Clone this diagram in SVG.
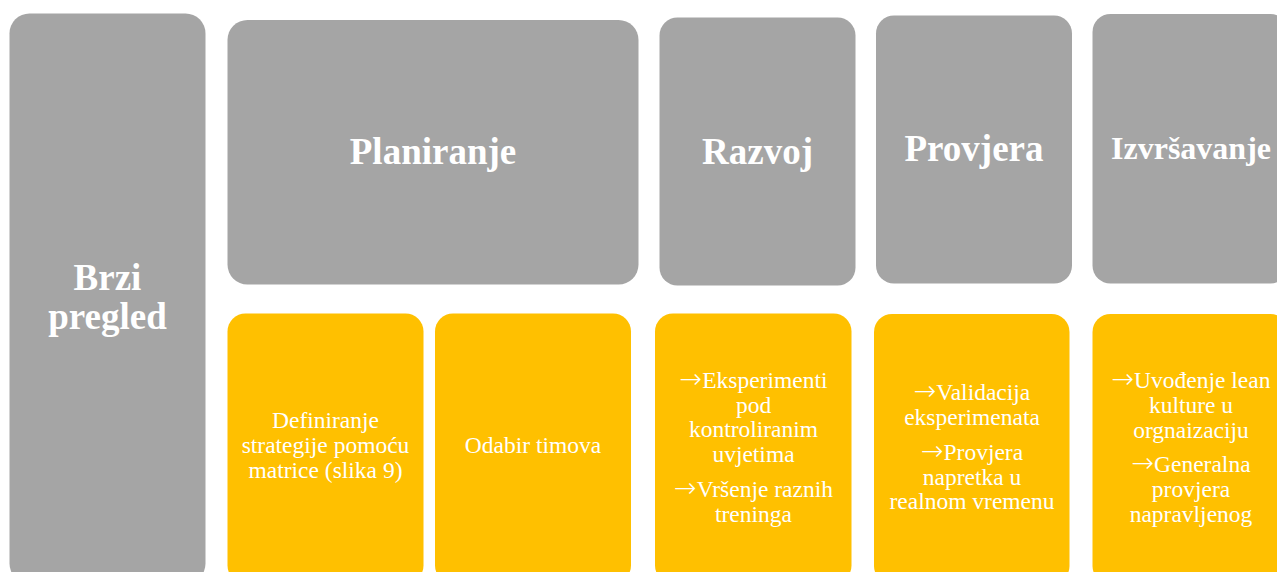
<svg xmlns="http://www.w3.org/2000/svg" width="1277" height="572" viewBox="0 0 1277 572">
<style>
.g{fill:#A5A5A5}
.y{fill:#FFC000}
.h{font-family:"Liberation Serif","Times New Roman",serif;font-weight:bold;fill:#fff;text-anchor:middle}
.t{font-family:"Liberation Serif","Times New Roman",serif;font-size:23.5px;fill:#fff;text-anchor:middle}
.a{font-family:"DejaVu Sans",sans-serif;font-weight:200;font-size:27px}
</style>
<rect width="1277" height="572" fill="#fff"/>
<g id="brzi-pregled">
<rect class="g" x="9.5" y="13.5" width="196" height="570" rx="20"/>
<text class="h" font-size="37" x="107.5" y="290">Brzi</text>
<text class="h" font-size="37" x="107.5" y="329">pregled</text>
</g>
<g id="planiranje">
<rect class="g" x="227.5" y="20" width="411" height="264.5" rx="20"/>
<text class="h" font-size="37" x="433" y="164">Planiranje</text>
</g>
<g id="razvoj">
<rect class="g" x="659.5" y="17.5" width="196" height="268" rx="18"/>
<text class="h" font-size="37" x="757.5" y="164">Razvoj</text>
</g>
<g id="provjera">
<rect class="g" x="876" y="15.5" width="196" height="268" rx="18"/>
<text class="h" font-size="37" x="974" y="161">Provjera</text>
</g>
<g id="izvrsavanje">
<rect class="g" x="1092.5" y="14" width="196" height="269.5" rx="18"/>
<text class="h" font-size="32" x="1191" y="159">Izvršavanje</text>
</g>
<g id="definiranje">
<rect class="y" x="227.5" y="313.5" width="196" height="270" rx="18"/>
<text class="t" x="325.5" y="428">Definiranje</text>
<text class="t" x="325.5" y="453">strategije pomoću</text>
<text class="t" x="325.5" y="478">matrice (slika 9)</text>
</g>
<g id="odabir">
<rect class="y" x="435" y="313.5" width="196" height="270" rx="18"/>
<text class="t" x="533" y="453">Odabir timova</text>
</g>
<g id="razvoj-detalji">
<rect class="y" x="655" y="313.5" width="196.5" height="270" rx="18"/>
<text class="t" x="753.5" y="388"><tspan class="a">→</tspan>Eksperimenti</text>
<text class="t" x="753.5" y="412.5">pod</text>
<text class="t" x="753.5" y="437">kontroliranim</text>
<text class="t" x="753.5" y="462">uvjetima</text>
<text class="t" x="753.5" y="497"><tspan class="a">→</tspan>Vršenje raznih</text>
<text class="t" x="753.5" y="521.5">treninga</text>
</g>
<g id="provjera-detalji">
<rect class="y" x="874" y="314" width="195.5" height="270" rx="18"/>
<text class="t" x="972" y="400"><tspan class="a">→</tspan>Validacija</text>
<text class="t" x="972" y="425">eksperimenata</text>
<text class="t" x="972" y="460"><tspan class="a">→</tspan>Provjera</text>
<text class="t" x="972" y="484.5">napretka u</text>
<text class="t" x="972" y="509">realnom vremenu</text>
</g>
<g id="izvrsavanje-detalji">
<rect class="y" x="1092.5" y="314" width="196" height="270" rx="18"/>
<text class="t" x="1191" y="388"><tspan class="a">→</tspan>Uvođenje lean</text>
<text class="t" x="1191" y="413">kulture u</text>
<text class="t" x="1191" y="438">orgnaizaciju</text>
<text class="t" x="1191" y="472"><tspan class="a">→</tspan>Generalna</text>
<text class="t" x="1191" y="497">provjera</text>
<text class="t" x="1191" y="522">napravljenog</text>
</g>
<g id="connectors"></g>
</svg>
